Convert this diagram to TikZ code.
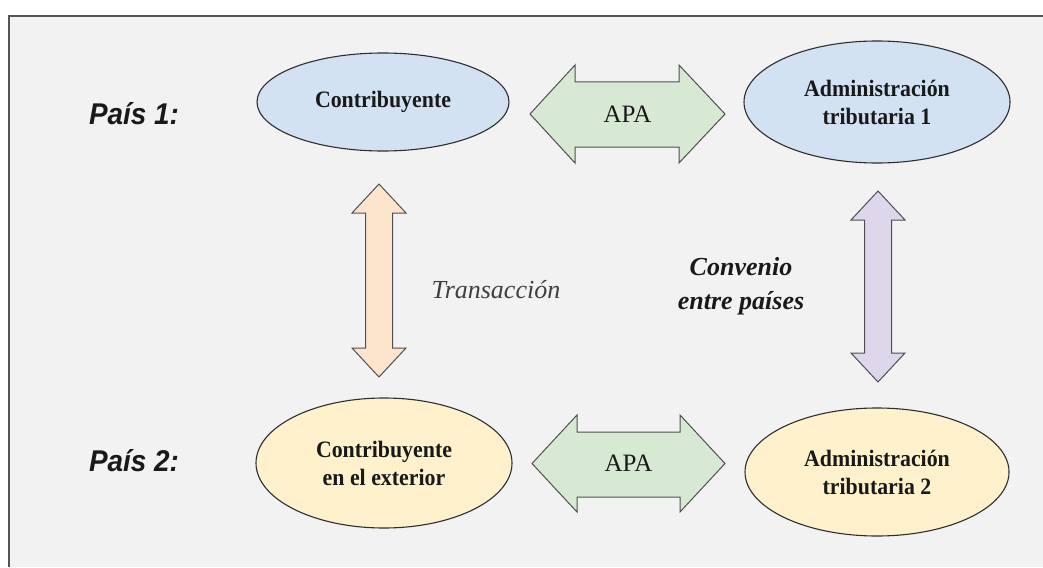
\documentclass[tikz,border=0pt]{standalone}
\usepackage{fontspec}
\setmainfont{Liberation Serif}
\newfontfamily\labelsans{Liberation Sans}[FakeStretch=0.93]
\newfontfamily\ovalfont{Liberation Serif}[FakeStretch=0.93]
\usetikzlibrary{shapes.geometric}
\definecolor{panelbg}{HTML}{F2F2F2}
\definecolor{panelline}{HTML}{555555}
\definecolor{bluefill}{HTML}{D2E2F3}
\definecolor{yellowfill}{HTML}{FFF1CC}
\definecolor{greenfill}{HTML}{D7E9D3}
\definecolor{orangefill}{HTML}{FDE4CC}
\definecolor{purplefill}{HTML}{DED6EA}
\definecolor{shapeline}{HTML}{2E2E2E}
\definecolor{arrowline}{HTML}{505050}
\definecolor{softtext}{HTML}{404040}
\begin{document}
\begin{tikzpicture}[x=1pt,y=-1pt,
  oval/.style={ellipse, draw=shapeline, line width=1.1pt, inner sep=0pt, align=center,
     font=\ovalfont\bfseries\fontsize{23.5}{28}\selectfont, text=black!90},
  blueoval/.style={oval, fill=bluefill},
  yellowoval/.style={oval, fill=yellowfill},
  fatarrow/.style={draw=arrowline, line width=1pt, line join=miter},
  country/.style={font=\labelsans\bfseries\itshape\fontsize{30}{34}\selectfont, text=black!90},
  apatext/.style={font=\fontsize{25}{29}\selectfont, text=black!90},
]
\useasboundingbox (0,0) rectangle (1043,567);
% panel
\fill[panelbg] (9,16) rectangle (1043,567);
\draw[panelline, line width=1.3pt] (1043,16) -- (9,16) -- (9,567);

% country labels
\node[country] (p1) at (134,114) {País 1:};
\node[country] (p2) at (134,461) {País 2:};

% ellipses
\node[blueoval, minimum width=252pt, minimum height=98pt] (c1) at (383,102) {Contribuyente};
\node[blueoval, minimum width=266pt, minimum height=122pt] (a1) at (877,102) {Administración\\tributaria 1};
\node[yellowoval, minimum width=256pt, minimum height=130pt] (c2) at (384,463) {Contribuyente\\en el exterior};
\node[yellowoval, minimum width=264pt, minimum height=128pt] (a2) at (877,472) {Administración\\tributaria 2};

% APA arrows (horizontal)
\coordinate (apa1) at (627.5,114);
\coordinate (apa2) at (628.5,463.5);
\draw[fatarrow, fill=greenfill, shift={(apa1)}]
  (-97.5,0) -- (-52.5,-49) -- (-52.5,-32) -- (51.5,-32) -- (51.5,-49) -- (97.5,0)
  -- (51.5,49) -- (51.5,33) -- (-52.5,33) -- (-52.5,49) -- cycle;
\node[apatext] (apa1t) at (apa1) {APA};
\draw[fatarrow, fill=greenfill, shift={(apa2)}]
  (-96.5,0) -- (-51.5,-48.5) -- (-51.5,-31.5) -- (51.5,-31.5) -- (51.5,-48.5) -- (96.5,0)
  -- (51.5,48.5) -- (51.5,33.5) -- (-51.5,33.5) -- (-51.5,48.5) -- cycle;
\node[apatext] (apa2t) at (apa2) {APA};

% vertical arrows
\coordinate (tr) at (379,280.5);
\draw[fatarrow, fill=orangefill, shift={(tr)}]
  (0,-96.5) -- (27,-67.5) -- (13.5,-67.5) -- (13.5,67.5) -- (27,67.5) -- (0,96.5)
  -- (-27,67.5) -- (-13.5,67.5) -- (-13.5,-67.5) -- (-27,-67.5) -- cycle;
\coordinate (cv) at (878,286.5);
\draw[fatarrow, fill=purplefill, shift={(cv)}]
  (0,-95.5) -- (27,-66.5) -- (13.5,-66.5) -- (13.5,66.5) -- (27,66.5) -- (0,95.5)
  -- (-27,66.5) -- (-13.5,66.5) -- (-13.5,-66.5) -- (-27,-66.5) -- cycle;

% labels of vertical arrows
\node[font=\itshape\fontsize{26}{30}\selectfont, text=softtext] (trl) at (496,290) {Transacción};
\node[font=\bfseries\itshape\fontsize{26}{34}\selectfont, text=black!90, align=center] (cvl) at (741,286) {Convenio\\entre países};
\end{tikzpicture}
\end{document}
